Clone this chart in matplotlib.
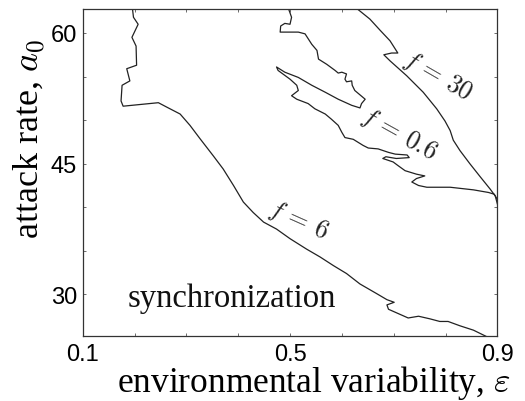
import numpy as np
import matplotlib
matplotlib.use("Agg")
import matplotlib.pyplot as plt

plt.rcParams['mathtext.fontset'] = 'cm'

# contour f = 6 (boundary of the synchronization region)
f6_eps = [0.196, 0.198, 0.207, 0.195, 0.203, 0.204, 0.185, 0.191, 0.176, 0.174,
          0.178, 0.246, 0.262, 0.288, 0.307, 0.326, 0.352, 0.371, 0.391, 0.410,
          0.429, 0.449, 0.474, 0.500, 0.532, 0.558, 0.584, 0.609, 0.635, 0.667,
          0.687, 0.701, 0.687, 0.690, 0.709, 0.728, 0.748, 0.770, 0.789, 0.805,
          0.828, 0.854, 0.878]
f6_a0 = [62.8, 61.8, 61.0, 59.5, 58.5, 56.3, 55.9, 54.5, 54.0, 52.2,
         51.6, 52.0, 51.5, 50.7, 49.4, 47.9, 45.9, 44.4, 42.5, 40.6,
         39.4, 38.3, 37.5, 36.4, 35.2, 34.3, 33.3, 32.4, 31.2, 30.1,
         29.4, 29.1, 28.8, 28.3, 27.8, 27.3, 27.5, 27.2, 26.9, 26.9,
         26.4, 25.9, 25.2]

# contour f = 0.6
f06_eps = [0.497, 0.503, 0.500, 0.490, 0.482, 0.481, 0.516, 0.529, 0.542, 0.552,
           0.555, 0.571, 0.587, 0.593, 0.600, 0.609, 0.606, 0.609, 0.619, 0.620,
           0.625, 0.645, 0.638, 0.635, 0.619, 0.593, 0.568, 0.542, 0.516, 0.490,
           0.474, 0.477, 0.500, 0.513, 0.516, 0.503, 0.513, 0.535, 0.548, 0.568,
           0.580, 0.593, 0.600, 0.606, 0.622, 0.641, 0.651, 0.670, 0.690, 0.703,
           0.726, 0.730, 0.705, 0.685, 0.679, 0.699, 0.708, 0.722, 0.744, 0.760,
           0.744, 0.735, 0.748, 0.764, 0.809, 0.854, 0.883, 0.894, 0.900]
f06_a0 = [62.8, 61.8, 61.0, 61.1, 60.8, 60.1, 60.1, 59.9, 58.7, 58.0,
          57.0, 56.4, 55.7, 55.4, 55.5, 55.3, 54.7, 54.4, 54.5, 54.0,
          53.4, 52.4, 51.9, 51.4, 51.7, 52.4, 53.2, 54.0, 54.9, 55.5,
          56.1, 55.7, 54.7, 54.0, 53.4, 52.8, 52.4, 51.9, 51.3, 50.7,
          50.1, 49.4, 48.6, 48.0, 47.8, 47.1, 46.8, 46.7, 46.3, 46.1,
          46.0, 45.7, 45.6, 45.8, 45.6, 45.2, 44.8, 44.2, 43.8, 43.6,
          43.3, 42.9, 42.5, 42.3, 42.3, 42.0, 41.7, 41.5, 40.9]

# contour f = 30
f30_eps = [0.629, 0.654, 0.674, 0.693, 0.708, 0.696, 0.681, 0.693, 0.725, 0.757,
           0.783, 0.799, 0.809, 0.815, 0.828, 0.847, 0.867, 0.886, 0.896, 0.900]
f30_a0 = [62.8, 61.6, 60.3, 59.1, 57.7, 57.7, 57.5, 56.8, 55.1, 53.2,
          51.3, 49.9, 48.8, 47.7, 46.5, 45.0, 43.5, 42.1, 41.3, 40.4]

x_ticks = [0.1, 0.2, 0.3, 0.4, 0.5, 0.6, 0.7, 0.8, 0.9]
x_labels = ['0.1', '', '', '', '0.5', '', '', '', '0.9']
y_ticks = [30, 35, 40, 45, 50, 55, 60]
y_labels = ['30', '', '', '45', '', '', '60']

line_col = '#222222'

fig = plt.figure(figsize=(5.25, 4.02), dpi=100)
ax = fig.add_axes([0.1575, 0.161, 0.7898, 0.8141])

for xs, ys in [(f6_eps, f6_a0), (f06_eps, f06_a0), (f30_eps, f30_a0)]:
    ax.plot(xs, ys, color=line_col, lw=0.9)

ax.set_xlim(0.1, 0.9)
ax.set_ylim(25.2, 62.75)
ax.set_xticks(x_ticks)
ax.set_xticklabels(x_labels, fontfamily='Liberation Sans', fontsize=17)
ax.set_yticks(y_ticks)
ax.set_yticklabels(y_labels, fontfamily='Liberation Sans', fontsize=17)
ax.tick_params(direction='in', length=2.5, width=0.6, color='#555555',
               top=True, right=True, pad=4)
ax.tick_params(axis='x', pad=5)
for s in ax.spines.values():
    s.set_linewidth(0.9)
    s.set_color('#333333')

ax.text(0.785, 55.2, r'$f\,=\,30$', rotation=-30, fontsize=18.5,
        ha='center', va='center', color='#222222')
ax.text(0.710, 48.5, r'$f\,=\,0.6$', rotation=-29, fontsize=18.5,
        ha='center', va='center', color='#222222')
ax.text(0.516, 38.6, r'$f\,=\,6$', rotation=-24, fontsize=18.5,
        ha='center', va='center', color='#222222')
ax.text(0.187, 28.73, 'synchronization', fontfamily='Liberation Serif',
        fontsize=23.5, ha='left', va='baseline', color='#111111')

fig.text(0.057, 0.654, r'attack rate, $a_0$', rotation=90,
         fontfamily='Liberation Serif', fontsize=26, ha='center', va='center')
fig.text(0.597, 0.024, r'environmental variability, $\varepsilon$',
         fontfamily='Liberation Serif', fontsize=25.5, ha='center', va='baseline')

fig.savefig('out.png', dpi=100)
